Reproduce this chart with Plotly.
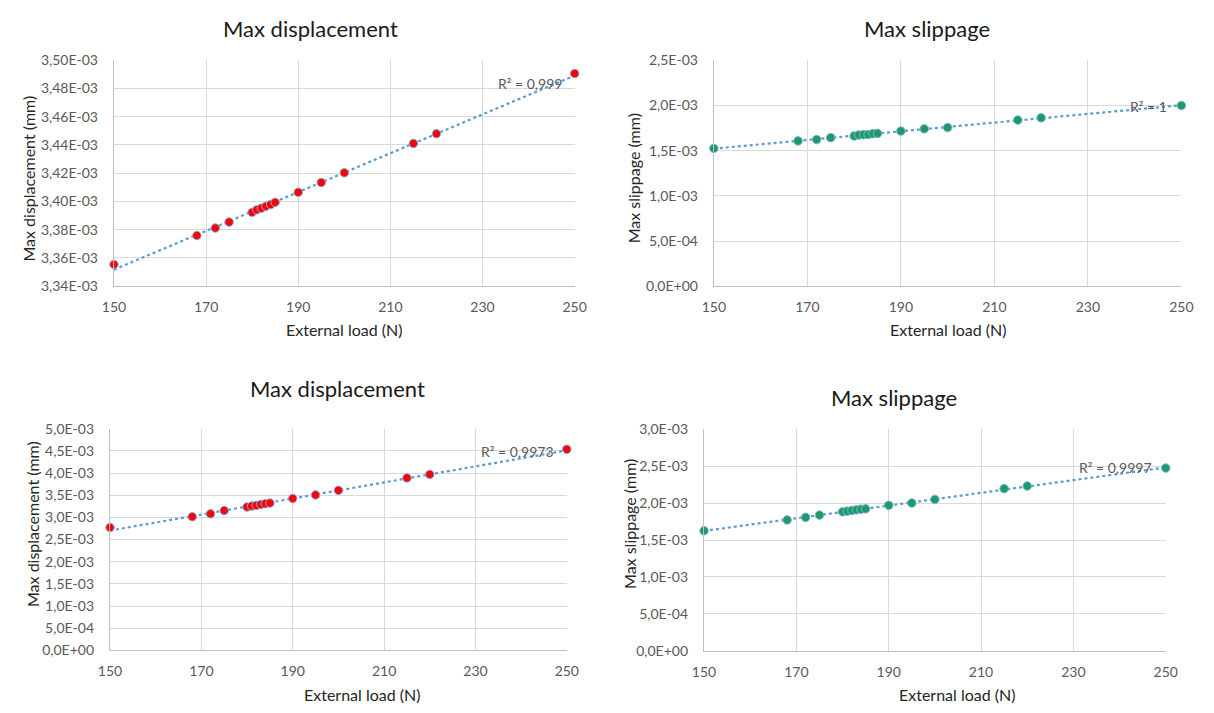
import numpy as np
import plotly.graph_objects as go

W, H = 1214, 713

# ---------------- data ----------------
loads = [150, 168, 172, 175, 180, 181, 182, 183, 184, 185, 190, 195, 200, 215, 220, 250]

disp_top = [3.3554, 3.3759, 3.3812, 3.3854, 3.3923, 3.3941, 3.3953, 3.3966, 3.3978, 3.3994,
            3.4065, 3.4134, 3.4203, 3.4411, 3.4480, 3.4906]  # x1e-3 mm
slip_top = [1.525, 1.608, 1.622, 1.644, 1.662, 1.673, 1.676, 1.678, 1.687, 1.691,
            1.716, 1.741, 1.755, 1.838, 1.863, 2.000]
disp_bot = [2.772, 3.015, 3.081, 3.154, 3.235, 3.255, 3.270, 3.290, 3.310, 3.322,
            3.426, 3.507, 3.610, 3.890, 3.970, 4.537]
slip_bot = [1.626, 1.772, 1.807, 1.838, 1.882, 1.891, 1.900, 1.909, 1.917, 1.922,
            1.970, 2.001, 2.050, 2.196, 2.231, 2.474]

titles = ["Max displacement", "Max slippage", "Max displacement", "Max slippage"]
ytitles = ["Max displacement (mm)", "Max slippage (mm)", "Max displacement (mm)", "Max slippage (mm)"]
r2_labels = ["R² = 0,999", "R² = 1", "R² = 0,9973", "R² = 0,9997"]

x_ticks = [150, 170, 190, 210, 230, 250]
y_ticks_tl = [3.34, 3.36, 3.38, 3.40, 3.42, 3.44, 3.46, 3.48, 3.50]
y_text_tl = ["3,34E-03", "3,36E-03", "3,38E-03", "3,40E-03", "3,42E-03", "3,44E-03", "3,46E-03", "3,48E-03", "3,50E-03"]
y_ticks_tr = [0, 0.5, 1.0, 1.5, 2.0, 2.5]
y_text_tr = ["0,0E+00", "5,0E-04", "1,0E-03", "1,5E-03", "2,0E-03", "2,5E-03"]
y_ticks_bl = [0, 0.5, 1.0, 1.5, 2.0, 2.5, 3.0, 3.5, 4.0, 4.5, 5.0]
y_text_bl = ["0,0E+00", "5,0E-04", "1,0E-03", "1,5E-03", "2,0E-03", "2,5E-03", "3,0E-03", "3,5E-03", "4,0E-03", "4,5E-03", "5,0E-03"]
y_ticks_br = [0, 0.5, 1.0, 1.5, 2.0, 2.5, 3.0]
y_text_br = ["0,0E+00", "5,0E-04", "1,0E-03", "1,5E-03", "2,0E-03", "2,5E-03", "3,0E-03"]

# ---------------- layout helpers ----------------
# plot areas in pixels: (left, right, top, bottom)
boxes = [(104, 574, 52.5, 284), (716, 1193, 52.5, 284), (100, 566, 430, 657), (706, 1177, 430.5, 657.5)]
title_pos = [(305, 20), (933, 20), (332, 389), (900, 398)]
ytitle_pos = [(17, 174), (634, 173), (21, 528), (630, 528)]
xtitle_pos = [(339, 328), (955, 328), (358, 702), (965, 702)]
r2_pos = [(240.3, 3.4836), (243.0, 1.993), (239.2, 4.49), (239.2, 2.479)]
yranges = [(3.34, 3.50), (0, 2.5), (0, 5.0), (0, 3.0)]

series = [disp_top, slip_top, disp_bot, slip_bot]
fills = ["#ff0000", "#1a9c62", "#ff0000", "#1a9c62"]
yticks = [(y_ticks_tl, y_text_tl), (y_ticks_tr, y_text_tr), (y_ticks_bl, y_text_bl), (y_ticks_br, y_text_br)]

FONT = "Lato"
TXT = "#595959"
GRID = "#d9d9d9"

fig = go.Figure()
layout = dict(width=W, height=H, margin=dict(l=0, r=0, t=0, b=0),
              paper_bgcolor="white", plot_bgcolor="white", showlegend=False,
              font=dict(family=FONT, color=TXT))
annotations = []

for i in range(4):
    xa = "x" if i == 0 else f"x{i+1}"
    ya = "y" if i == 0 else f"y{i+1}"
    l, r, t, b = boxes[i]
    ys = series[i]
    # linear trendline fitted to the data
    m, c = np.polyfit(loads, ys, 1)
    xt = np.array([min(loads), max(loads)])
    fig.add_trace(go.Scatter(x=xt, y=m * xt + c, mode="lines", xaxis=xa, yaxis=ya,
                             line=dict(color="#5b9bd5", width=2.2, dash="dot"), hoverinfo="skip"))
    fig.add_trace(go.Scatter(x=loads, y=ys, mode="markers", xaxis=xa, yaxis=ya,
                             marker=dict(color=fills[i], size=8.5, line=dict(color="#7fb0e0", width=1)),
                             cliponaxis=False))
    key_x = "xaxis" if i == 0 else f"xaxis{i+1}"
    key_y = "yaxis" if i == 0 else f"yaxis{i+1}"
    layout[key_x] = dict(domain=[l / W, r / W], anchor=ya, range=[150, 250],
                         tickvals=x_ticks, ticktext=[str(v) for v in x_ticks],
                         showgrid=True, gridcolor=GRID, gridwidth=1.3,
                         showline=True, linecolor="#bfbfbf", linewidth=1.3,
                         zeroline=False, ticks="", ticklabelstandoff=8,
                         tickfont=dict(family=FONT, size=14, color=TXT))
    tv, tt = yticks[i]
    layout[key_y] = dict(domain=[1 - b / H, 1 - t / H], anchor=xa, range=list(yranges[i]),
                         tickvals=tv, ticktext=tt,
                         showgrid=True, gridcolor=GRID, gridwidth=1.3,
                         showline=True, linecolor="#bfbfbf", linewidth=1.3,
                         zeroline=False, ticks="", ticklabelstandoff=12,
                         tickfont=dict(family=FONT, size=14, color=TXT))
    # chart title
    tx, ty = title_pos[i]
    annotations.append(dict(text=titles[i], x=tx / W, y=1 - ty / H, xref="paper", yref="paper",
                            showarrow=False, xanchor="center", yanchor="middle",
                            font=dict(family=FONT, size=22, color="#1a1a1a")))
    # y axis title
    yx, yy = ytitle_pos[i]
    annotations.append(dict(text=ytitles[i], x=yx / W, y=1 - yy / H,
                            xref="paper", yref="paper", showarrow=False, textangle=-90,
                            xanchor="center", yanchor="middle",
                            font=dict(family=FONT, size=16, color="#262626")))
    # x axis title
    xx, xy = xtitle_pos[i]
    annotations.append(dict(text="External load (N)", x=xx / W, y=1 - xy / H,
                            xref="paper", yref="paper", showarrow=False,
                            xanchor="center", yanchor="middle",
                            font=dict(family=FONT, size=16, color="#262626")))
    # R² label
    rx, ry = r2_pos[i]
    annotations.append(dict(text=r2_labels[i], x=rx, y=ry, xref=xa, yref=ya, showarrow=False,
                            xanchor="center", yanchor="middle",
                            font=dict(family=FONT, size=14, color=TXT)))

layout["annotations"] = annotations
fig.update_layout(**layout)
fig.write_html("out.html", config={"displayModeBar": False},
               post_script="document.body.style.margin='0';document.body.style.overflow='hidden';")
